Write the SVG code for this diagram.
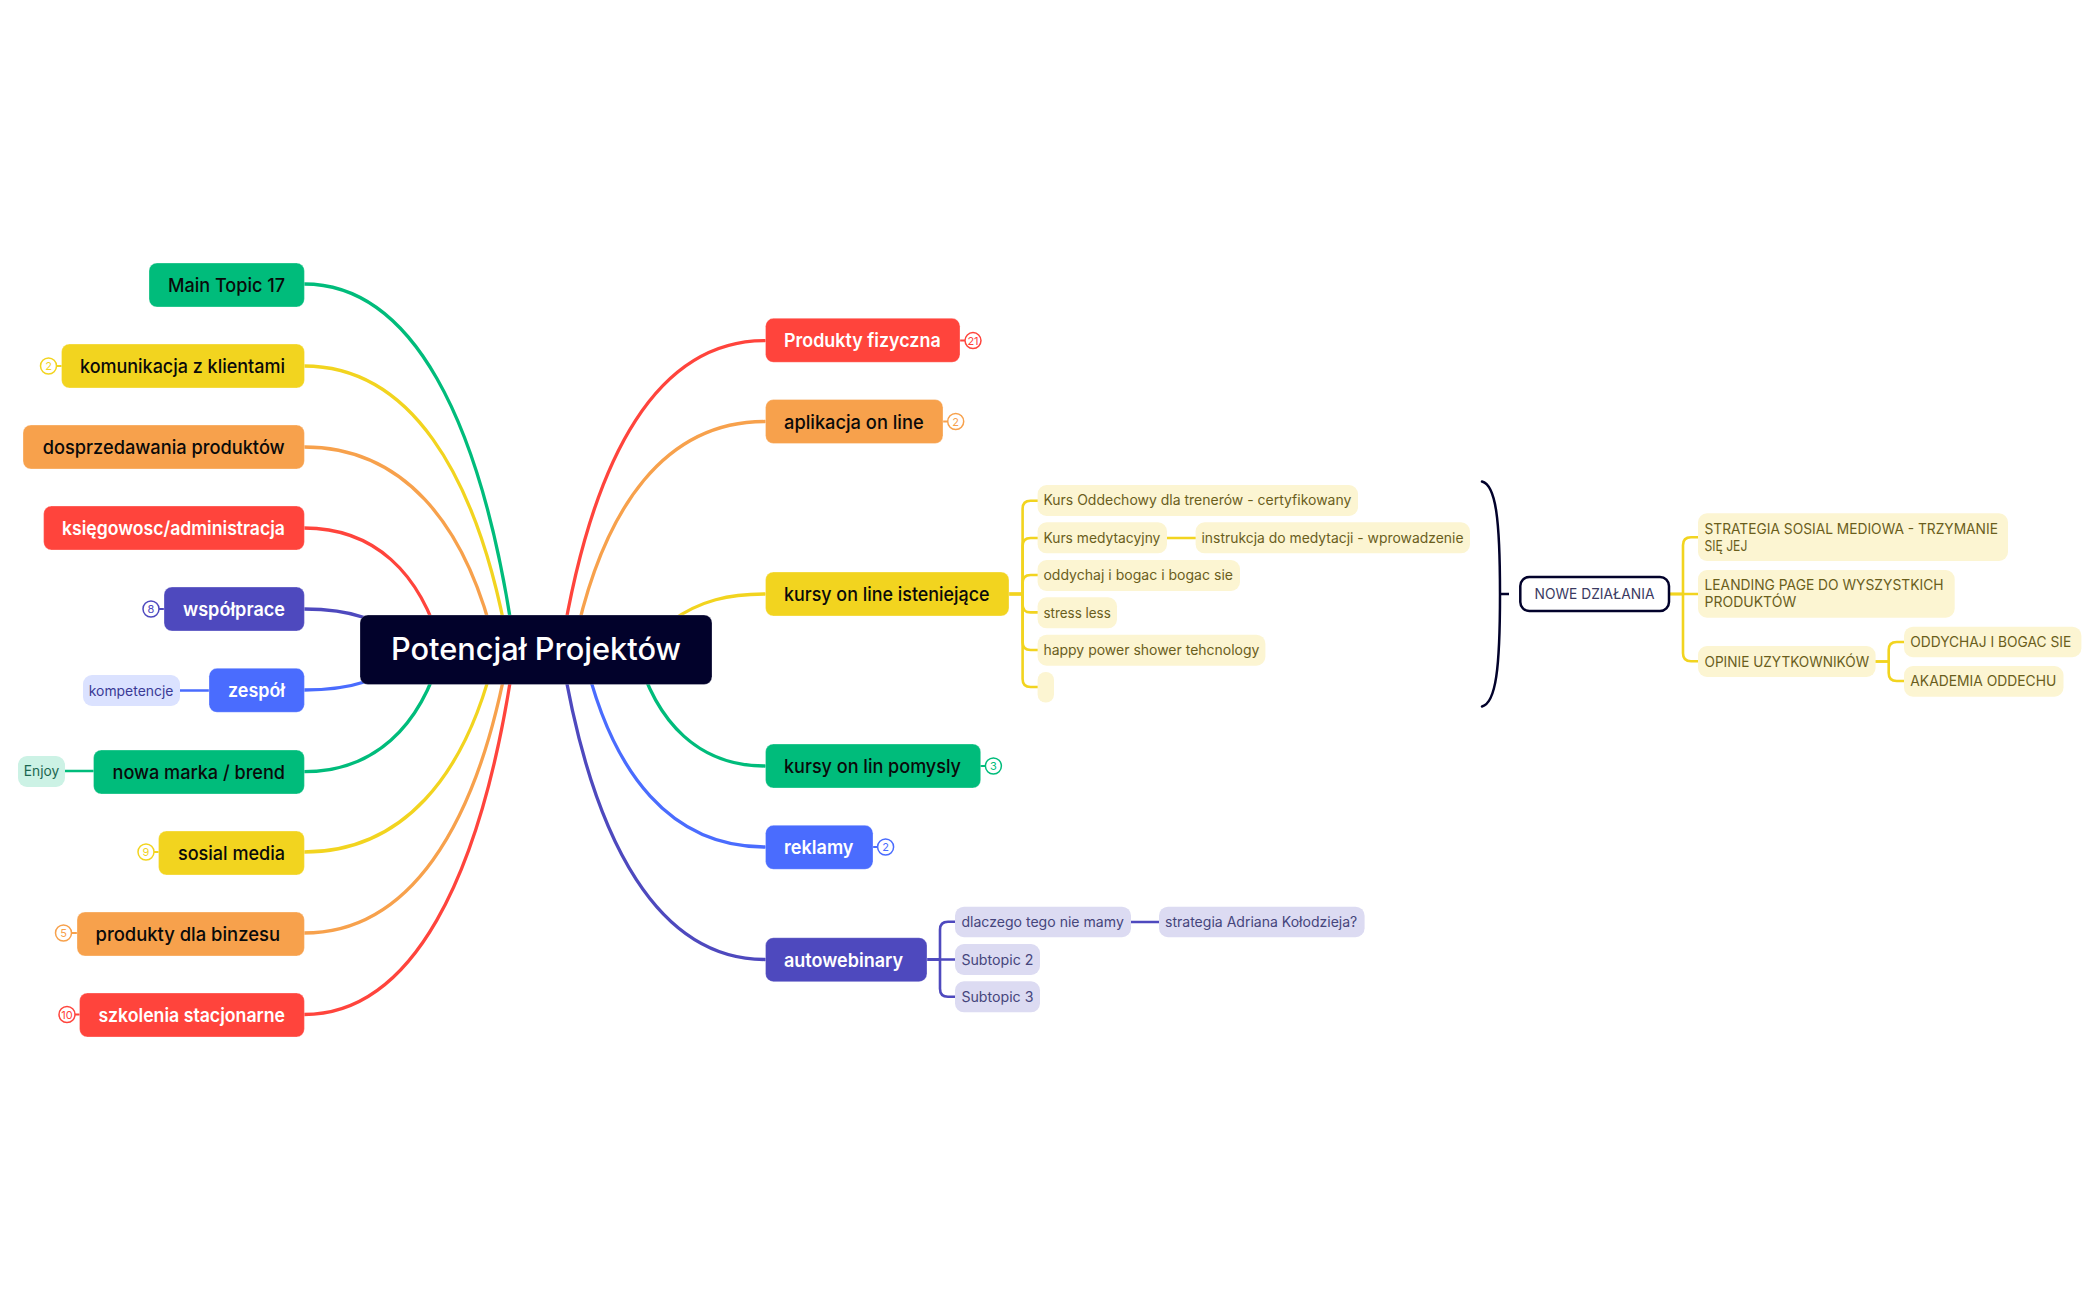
<svg xmlns="http://www.w3.org/2000/svg" width="2099" height="1300" viewBox="0 0 2099 1300">
<style>
text{font-family:"Inter","Liberation Sans",sans-serif;white-space:pre}
.t{font-size:19px;font-weight:500;fill:#0a0a0a}
.w{font-size:19px;font-weight:600;fill:#fff}
.c{font-size:14px;fill:#6a5e1c}
.ci{fill:#45457c}
.cb{fill:#3a3a96}
.cg{fill:#1b6650}
.n{fill:none;stroke-width:3.300;stroke-linecap:round;stroke-linejoin:round}
.s{stroke-width:2.600}
.tick{stroke-width:2}
.green{stroke:#00bc7b}.yellow{stroke:#f2d41f}.orange{stroke:#f7a14c}.red{stroke:#ff443c}.indigo{stroke:#4e49be}.blue{stroke:#4a6cfe}
.fgreen{fill:#00bc7b}.fyellow{fill:#f2d41f}.forange{fill:#f7a14c}.fred{fill:#ff443c}.findigo{fill:#4e49be}.fblue{fill:#4a6cfe}
rect[class^="f"]{stroke:#fff;stroke-opacity:.3;stroke-width:1}
.py{fill:#fcf5d2}.pi{fill:#dcdbf2}.pb{fill:#dbe2ff}.pg{fill:#ccf2e5}
.b{fill:#fff;stroke-width:1.500}
.bt{font-size:11px;text-anchor:middle}
</style>
<g id="connectors">
<path class="n green" d="M304 284C410 284 482 414 515 650"/>
<path class="n yellow" d="M304 366C406.500 366 477 467 509 650"/>
<path class="n orange" d="M304 447C400 447 466 519 496 650"/>
<path class="n red" d="M304 528C373 528 420.600 571 442 650"/>
<path class="n indigo" d="M304 609C350 609 380 618 420 650"/>
<path class="n blue" d="M304 690C350 690 380 682 420 650"/>
<path class="n green" d="M304 771.700C373 771.700 420.600 728.500 442 650"/>
<path class="n yellow" d="M304 852C400 852 466 780 496 650"/>
<path class="n orange" d="M304 933C406.500 933 477 832.500 509 650"/>
<path class="n red" d="M304 1014.500C409.500 1014.500 482 885 515 650"/>
<path class="n red" d="M765 340.600C660 340.600 593 450 561 650"/>
<path class="n orange" d="M765 421.500C668 421.500 603 502 573 650"/>
<path class="n yellow" d="M765 594C730 594 700 600 670 622"/>
<path class="n green" d="M765 766C700.500 766 656 725 636 650"/>
<path class="n blue" d="M765 847C673 847 611.500 777 583 650"/>
<path class="n indigo" d="M765 959.500C661.500 959.500 593 849 561 650"/>
<path class="n s yellow" d="M1009 594H1022.600V508.700Q1022.600 500.700 1030.600 500.700H1038"/>
<path class="n s yellow" d="M1009 594H1022.600V546Q1022.600 538 1030.600 538H1038"/>
<path class="n s yellow" d="M1009 594H1022.600V583Q1022.600 575 1030.600 575H1038"/>
<path class="n s yellow" d="M1009 594H1022.600V604.400Q1022.600 612.400 1030.600 612.400H1038"/>
<path class="n s yellow" d="M1009 594H1022.600V642Q1022.600 650 1030.600 650H1038"/>
<path class="n s yellow" d="M1009 594H1022.600V679Q1022.600 687 1030.600 687H1038"/>
<path class="n s yellow" d="M1167 538H1196"/>
<path class="n s yellow" d="M1669 594H1683V545.300Q1683 537.300 1691 537.300H1698"/>
<path class="n s yellow" d="M1669 594H1698"/>
<path class="n s yellow" d="M1669 594H1683V653.300Q1683 661.300 1691 661.300H1698"/>
<path class="n s yellow" d="M1875.600 661.500H1888.700V650Q1888.700 642 1896.700 642H1904"/>
<path class="n s yellow" d="M1875.600 661.500H1888.700V673Q1888.700 681 1896.700 681H1904"/>
<path class="n s indigo" d="M927 959.500H940V929.700Q940 921.700 948 921.700H955"/>
<path class="n s indigo" d="M927 959.500H955"/>
<path class="n s indigo" d="M927 959.500H940V988.700Q940 996.700 948 996.700H955"/>
<path class="n s indigo" d="M1131 922H1159"/>
<path class="n s blue" d="M180 690.500H209"/>
<path class="n s green" d="M65 771H93.500"/>
<path class="n tick yellow" d="M57 366H61.500"/>
<path class="n tick indigo" d="M159.500 609H164"/>
<path class="n tick yellow" d="M154.500 852H158.500"/>
<path class="n tick orange" d="M72 933H77"/>
<path class="n tick red" d="M75.500 1014.500H79.500"/>
<path class="n tick red" d="M960 340.600H964.500"/>
<path class="n tick orange" d="M943 421.500H947"/>
<path class="n tick green" d="M980.700 766H985"/>
<path class="n tick blue" d="M873 847H877"/>
<path fill="none" stroke="#02022b" stroke-width="2.500" stroke-linecap="round" d="M1482 481.500C1496 485 1500 520 1500 594C1500 668 1496 703 1482 706.500"/>
<path fill="none" stroke="#02022b" stroke-width="2.500" d="M1500 594H1509"/>
</g>
<g id="root"><rect x="360" y="615" width="352" height="69.500" rx="8" fill="#02022b" stroke="#fff" stroke-opacity=".25"/><text x="391" y="659.500" font-size="31" font-weight="500" fill="#fff" textLength="290" lengthAdjust="spacingAndGlyphs">Potencjał Projektów</text></g>
<g id="main-topic-17"><rect class="fgreen" x="149" y="263" width="155.400" height="44" rx="8"/><text class="t" x="168" y="292" textLength="117" lengthAdjust="spacingAndGlyphs">Main Topic 17</text></g>
<g id="komunikacja"><rect class="fyellow" x="61.500" y="344" width="243" height="44" rx="8"/><text class="t" x="80" y="373" textLength="205" lengthAdjust="spacingAndGlyphs">komunikacja z klientami</text><circle class="b yellow" cx="48.500" cy="366" r="8"/><text class="bt" x="48.500" y="370" fill="#f2d41f">2</text></g>
<g id="dosprzedawania"><rect class="forange" x="23" y="425" width="281.400" height="44" rx="8"/><text class="t" x="42.700" y="454" textLength="242" lengthAdjust="spacingAndGlyphs">dosprzedawania produktów</text></g>
<g id="ksiegowosc"><rect class="fred" x="43.600" y="506" width="260.800" height="44" rx="8"/><text class="w" x="62" y="535" textLength="223" lengthAdjust="spacingAndGlyphs">księgowosc/administracja</text></g>
<g id="wspolprace"><rect class="findigo" x="164" y="587" width="140.400" height="44" rx="8"/><text class="w" x="183" y="616" textLength="102" lengthAdjust="spacingAndGlyphs">współprace</text><circle class="b indigo" cx="151" cy="609" r="8"/><text class="bt" x="151" y="613" fill="#4e49be">8</text></g>
<g id="zespol"><rect class="fblue" x="209" y="668.300" width="95.400" height="44" rx="8"/><text class="w" x="228" y="697" textLength="57" lengthAdjust="spacingAndGlyphs">zespół</text></g>
<g id="kompetencje"><rect class="pb" x="83" y="675" width="97" height="31" rx="9"/><text class="c cb" x="88.700" y="695.500" textLength="84.800" lengthAdjust="spacingAndGlyphs">kompetencje</text></g>
<g id="nowa-marka"><rect class="fgreen" x="93.500" y="750" width="210.900" height="44" rx="8"/><text class="t" x="112.500" y="779" textLength="172.500" lengthAdjust="spacingAndGlyphs">nowa marka / brend</text></g>
<g id="enjoy"><rect class="pg" x="18" y="756" width="47" height="31" rx="9"/><text class="c cg" x="23.800" y="776" textLength="35.400" lengthAdjust="spacingAndGlyphs">Enjoy</text></g>
<g id="sosial-media"><rect class="fyellow" x="158.500" y="831" width="145.900" height="44" rx="8"/><text class="t" x="178" y="860" textLength="107" lengthAdjust="spacingAndGlyphs">sosial media</text><circle class="b yellow" cx="146" cy="852" r="8"/><text class="bt" x="146" y="856" fill="#f2d41f">9</text></g>
<g id="produkty-binzesu"><rect class="forange" x="77" y="912" width="227.400" height="44" rx="8"/><text class="t" x="95.500" y="941" textLength="184.500" lengthAdjust="spacingAndGlyphs">produkty dla binzesu</text><circle class="b orange" cx="63.500" cy="933" r="8"/><text class="bt" x="63.500" y="937" fill="#f7a14c">5</text></g>
<g id="szkolenia"><rect class="fred" x="79.500" y="993" width="224.900" height="44" rx="8"/><text class="w" x="98.400" y="1022" textLength="186.600" lengthAdjust="spacingAndGlyphs">szkolenia stacjonarne</text><circle class="b red" cx="67" cy="1014.500" r="8"/><text class="bt" x="67" y="1018.500" fill="#ff443c">10</text></g>
<g id="produkty-fizyczna"><rect class="fred" x="765.500" y="318.300" width="194.500" height="44" rx="8"/><text class="w" x="784" y="347.300" textLength="156.700" lengthAdjust="spacingAndGlyphs">Produkty fizyczna</text><circle class="b red" cx="973" cy="340.600" r="8"/><text class="bt" x="973" y="344.600" fill="#ff443c">21</text></g>
<g id="aplikacja"><rect class="forange" x="765.500" y="399.500" width="177.500" height="44" rx="8"/><text class="t" x="784" y="428.500" textLength="139.700" lengthAdjust="spacingAndGlyphs">aplikacja on line</text><circle class="b orange" cx="955.700" cy="421.500" r="8"/><text class="bt" x="955.700" y="425.500" fill="#f7a14c">2</text></g>
<g id="kursy-istniejace"><rect class="fyellow" x="765.500" y="572" width="243.500" height="44" rx="8"/><text class="t" x="784" y="601" textLength="205.600" lengthAdjust="spacingAndGlyphs">kursy on line isteniejące</text></g>
<g id="kurs-oddechowy"><rect class="py" x="1037.600" y="485" width="320.400" height="31" rx="9"/><text class="c" x="1043.400" y="505" textLength="308" lengthAdjust="spacingAndGlyphs">Kurs Oddechowy dla trenerów - certyfikowany</text></g>
<g id="kurs-medytacyjny"><rect class="py" x="1037.600" y="522.300" width="129.400" height="31" rx="9"/><text class="c" x="1043.400" y="543" textLength="117" lengthAdjust="spacingAndGlyphs">Kurs medytacyjny</text></g>
<g id="instrukcja"><rect class="py" x="1195.600" y="522.300" width="274.400" height="31" rx="9"/><text class="c" x="1201.500" y="543" textLength="262" lengthAdjust="spacingAndGlyphs">instrukcja do medytacji - wprowadzenie</text></g>
<g id="oddychaj"><rect class="py" x="1037.600" y="560" width="202.400" height="31" rx="9"/><text class="c" x="1043.400" y="580" textLength="189.600" lengthAdjust="spacingAndGlyphs">oddychaj i bogac i bogac sie</text></g>
<g id="stress-less"><rect class="py" x="1037.600" y="597.300" width="79.400" height="31" rx="9"/><text class="c" x="1043.400" y="617.500" textLength="67.400" lengthAdjust="spacingAndGlyphs">stress less</text></g>
<g id="happy"><rect class="py" x="1037.600" y="634.700" width="227.800" height="31" rx="9"/><text class="c" x="1043.400" y="655" textLength="216" lengthAdjust="spacingAndGlyphs">happy power shower tehcnology</text></g>
<g id="empty"><rect class="py" x="1037.600" y="672" width="16.400" height="30.500" rx="8"/></g>
<g id="nowe-dzialania"><rect x="1520.300" y="577" width="148.700" height="34" rx="9" fill="#fff" stroke="#02022b" stroke-width="2.500"/><text class="c" x="1534.600" y="599" textLength="119.800" lengthAdjust="spacingAndGlyphs" style="fill:#3a3a62">NOWE DZIAŁANIA</text></g>
<g id="strategia"><rect class="py" x="1698" y="513.300" width="310" height="47.700" rx="9"/><text class="c" x="1704.500" y="534" textLength="293.400" lengthAdjust="spacingAndGlyphs">STRATEGIA SOSIAL MEDIOWA - TRZYMANIE</text><text class="c" x="1704.500" y="551" textLength="42.800" lengthAdjust="spacingAndGlyphs">SIĘ JEJ</text></g>
<g id="leanding"><rect class="py" x="1698" y="570" width="256.700" height="47.700" rx="9"/><text class="c" x="1704.500" y="590" textLength="239" lengthAdjust="spacingAndGlyphs">LEANDING PAGE DO WYSZYSTKICH</text><text class="c" x="1704.500" y="607" textLength="91.700" lengthAdjust="spacingAndGlyphs">PRODUKTÓW</text></g>
<g id="opinie"><rect class="py" x="1698" y="646" width="177.600" height="31" rx="9"/><text class="c" x="1704.500" y="666.500" textLength="164.600" lengthAdjust="spacingAndGlyphs">OPINIE UZYTKOWNIKÓW</text></g>
<g id="oddychaj-bogac"><rect class="py" x="1904" y="626.700" width="177.400" height="30.500" rx="9"/><text class="c" x="1910.300" y="647" textLength="161" lengthAdjust="spacingAndGlyphs">ODDYCHAJ I BOGAC SIE</text></g>
<g id="akademia"><rect class="py" x="1904" y="666" width="159.500" height="30.700" rx="9"/><text class="c" x="1910.300" y="686" textLength="146" lengthAdjust="spacingAndGlyphs">AKADEMIA ODDECHU</text></g>
<g id="kursy-pomysly"><rect class="fgreen" x="765.500" y="744" width="215.200" height="44" rx="8"/><text class="t" x="784" y="773" textLength="177" lengthAdjust="spacingAndGlyphs">kursy on lin pomysly</text><circle class="b green" cx="993.400" cy="766" r="8"/><text class="bt" x="993.400" y="770" fill="#00bc7b">3</text></g>
<g id="reklamy"><rect class="fblue" x="765.500" y="825.300" width="107.500" height="44" rx="8"/><text class="w" x="784" y="854" textLength="69.500" lengthAdjust="spacingAndGlyphs">reklamy</text><circle class="b blue" cx="885.600" cy="847" r="8"/><text class="bt" x="885.600" y="851" fill="#4a6cfe">2</text></g>
<g id="autowebinary"><rect class="findigo" x="765.500" y="937.700" width="161.500" height="44" rx="8"/><text class="w" x="784" y="966.500" textLength="119" lengthAdjust="spacingAndGlyphs">autowebinary</text></g>
<g id="dlaczego"><rect class="pi" x="955" y="906.700" width="176" height="30.500" rx="9"/><text class="c ci" x="961.400" y="927" textLength="162.400" lengthAdjust="spacingAndGlyphs">dlaczego tego nie mamy</text></g>
<g id="strategia-adriana"><rect class="pi" x="1159" y="906.700" width="205.600" height="30.500" rx="9"/><text class="c ci" x="1165" y="927" textLength="192.300" lengthAdjust="spacingAndGlyphs">strategia Adriana Kołodzieja?</text></g>
<g id="subtopic-2"><rect class="pi" x="955" y="944" width="85" height="31" rx="9"/><text class="c ci" x="961.400" y="964.500" textLength="72" lengthAdjust="spacingAndGlyphs">Subtopic 2</text></g>
<g id="subtopic-3"><rect class="pi" x="955" y="981.300" width="85" height="31" rx="9"/><text class="c ci" x="961.400" y="1002" textLength="72" lengthAdjust="spacingAndGlyphs">Subtopic 3</text></g>
</svg>
